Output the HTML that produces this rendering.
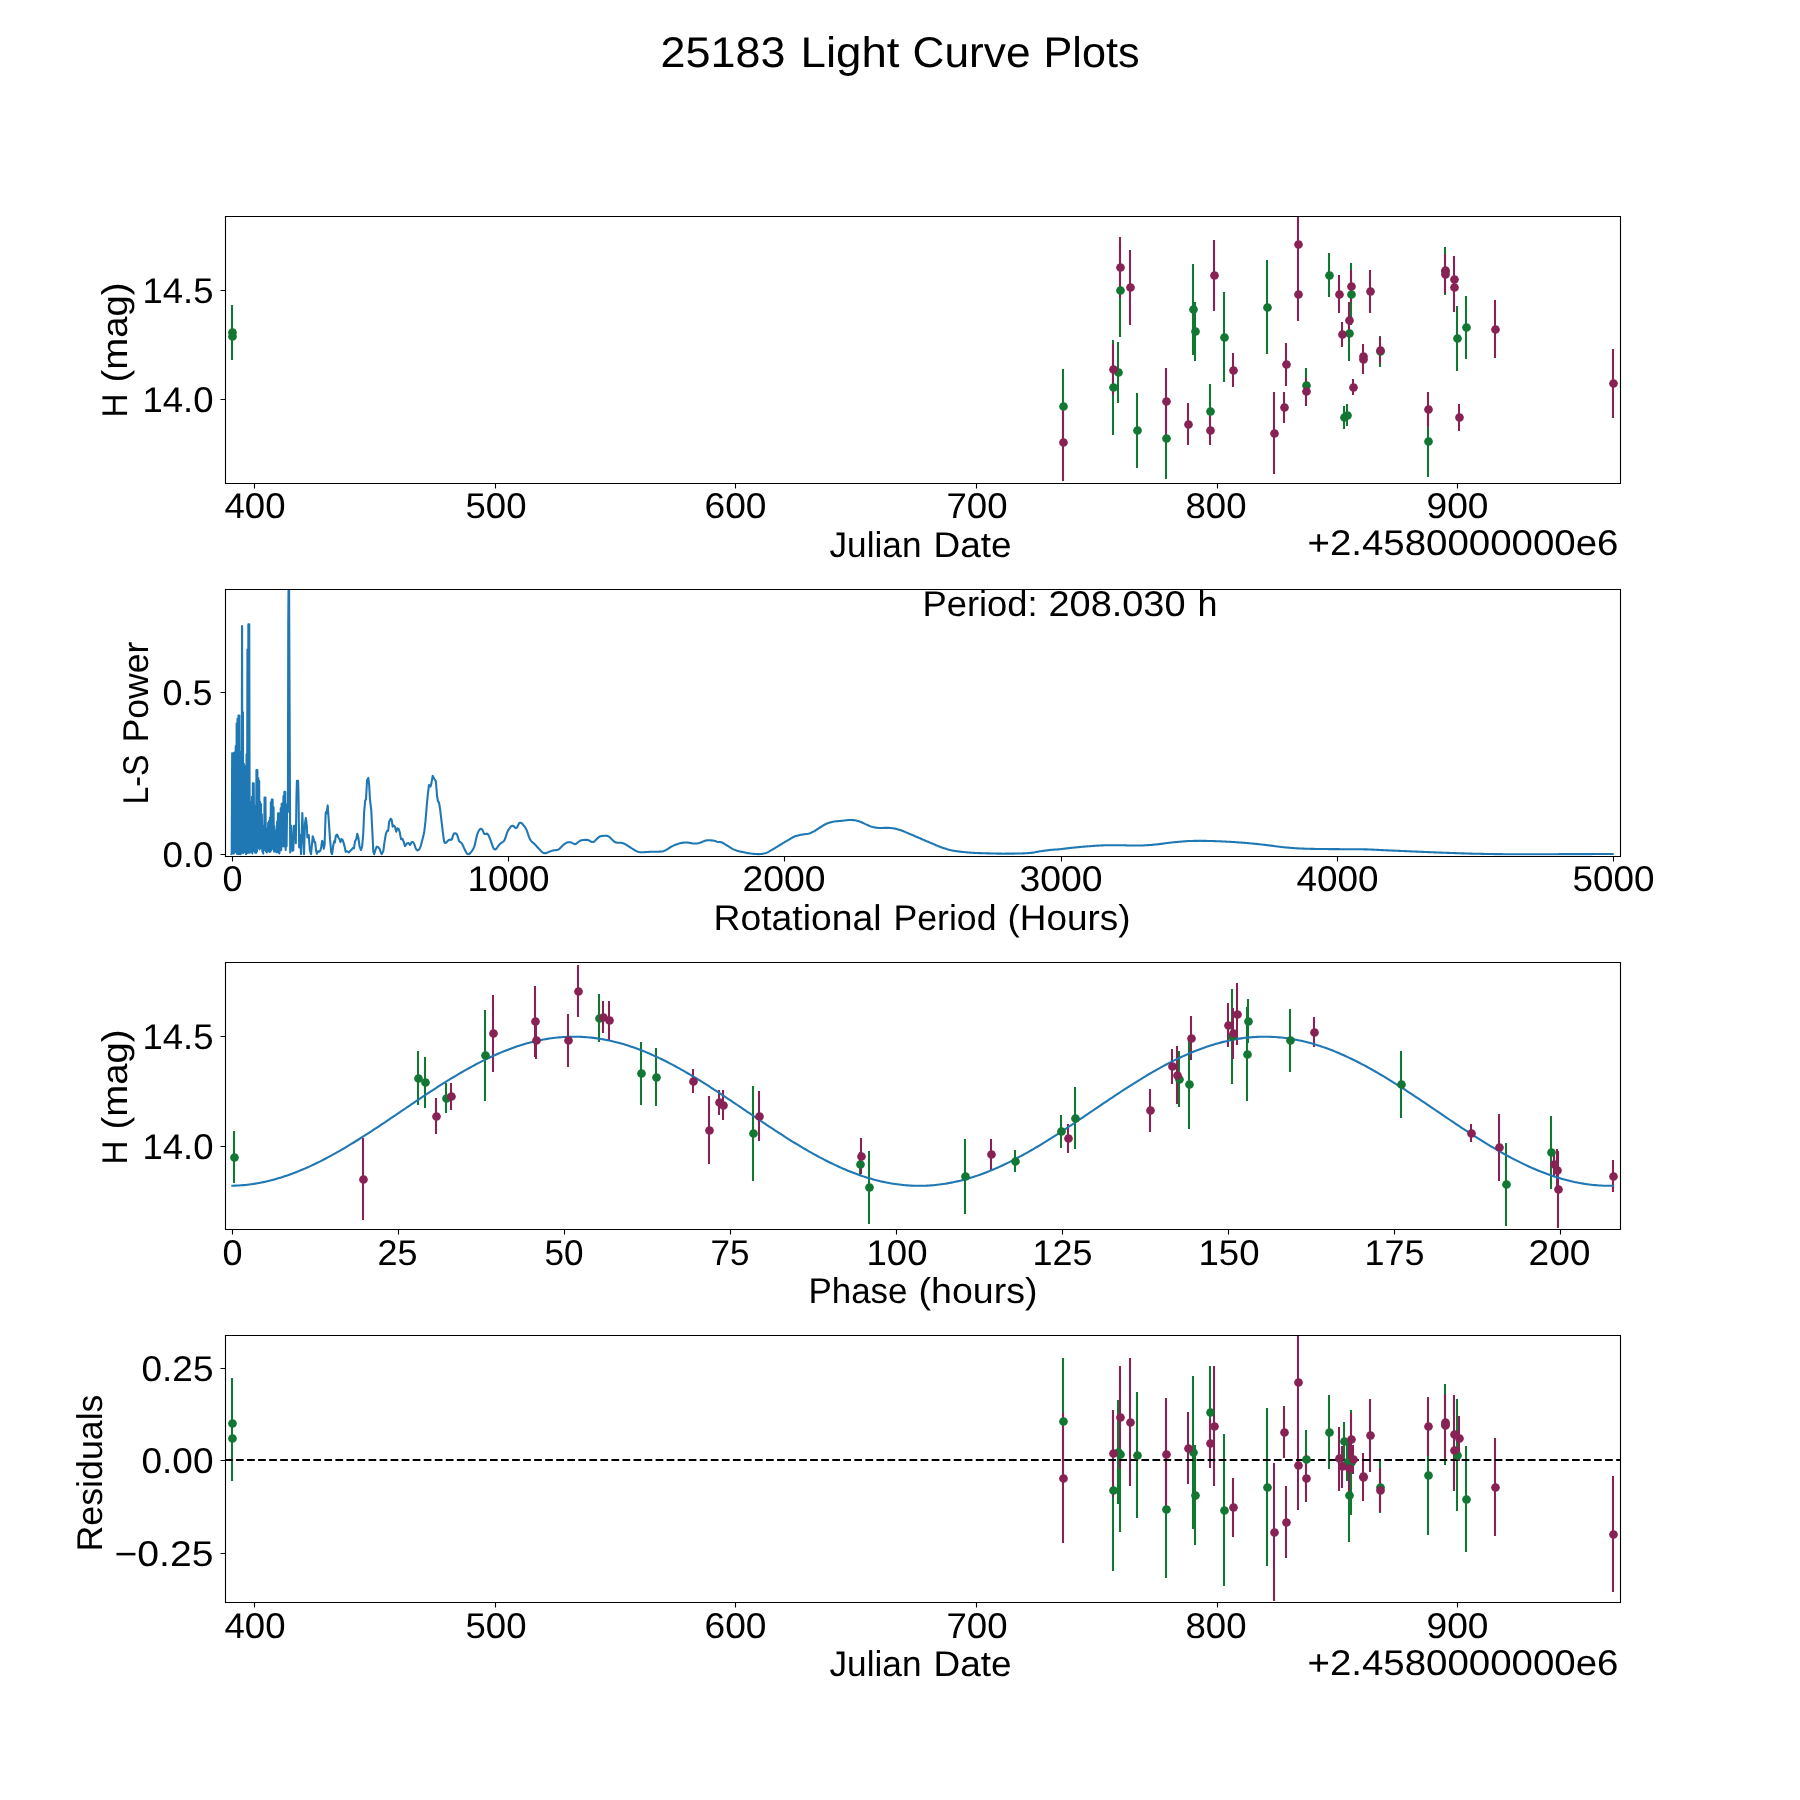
<!DOCTYPE html>
<html lang="en"><head><meta charset="utf-8"><title>25183 Light Curve Plots</title>
<style>html,body{margin:0;padding:0;background:#fff;}body{width:1800px;height:1800px;overflow:hidden;}svg{display:block;will-change:transform;}text{font-family:"Liberation Sans",sans-serif;fill:#000;filter:grayscale(1);text-rendering:geometricPrecision;}</style></head><body>
<svg width="1800" height="1800" viewBox="0 0 1800 1800">
<rect width="1800" height="1800" fill="#fff"/>
<defs>
<clipPath id="c0"><rect x="225.0" y="216" width="1395.0" height="266.54"/></clipPath>
<clipPath id="c1"><rect x="225.0" y="589.15" width="1395.0" height="266.54"/></clipPath>
<clipPath id="c2"><rect x="225.0" y="962.31" width="1395.0" height="266.54"/></clipPath>
<clipPath id="c3"><rect x="225.0" y="1335.46" width="1395.0" height="266.54"/></clipPath>
</defs>
<g clip-path="url(#c0)">
<path d="M232 305V360M232 312V360M1063 369V444M1113 340V435M1118 342V403M1120 245V337M1137 393V468M1166 398V479M1193 264V355M1195 302V361M1210 384V438M1224 292V382M1267 260V354M1306 368V402M1329 253V297M1351 263V325M1349 306V361M1380 336V367M1344 406V429M1347 404V426M1428 406V477M1445 247V295M1457 306V371M1466 296V359" stroke="#117733" stroke-width="2.083" fill="none"/>
<path d="M1063 404V481M1113 344V395M1120 237V298M1130 250V325M1166 368V435M1188 403V445M1210 416V445M1214 240V311M1233 353V387M1274 392V474M1284 392V423M1286 343V386M1298 217V272M1298 268V321M1306 378V406M1339 275V313M1351 270V302M1349 302V338M1342 322V347M1370 270V313M1363 344V368M1363 345V374M1380 337V363M1353 379V395M1428 392V427M1445 254V287M1445 256V293M1454 256V303M1454 263V312M1495 300V358M1459 404V431M1613 349V418" stroke="#882255" stroke-width="2.083" fill="none"/>
<g fill="#117733"><circle cx="232.5" cy="332.5" r="4.35"/><circle cx="232.5" cy="336.5" r="4.35"/><circle cx="1063.5" cy="406.5" r="4.35"/><circle cx="1113.5" cy="387.5" r="4.35"/><circle cx="1118.5" cy="372.5" r="4.35"/><circle cx="1120.5" cy="290.5" r="4.35"/><circle cx="1137.5" cy="430.5" r="4.35"/><circle cx="1166.5" cy="438.5" r="4.35"/><circle cx="1193.5" cy="309.5" r="4.35"/><circle cx="1195.5" cy="331.5" r="4.35"/><circle cx="1210.5" cy="411.5" r="4.35"/><circle cx="1224.5" cy="337.5" r="4.35"/><circle cx="1267.5" cy="307.5" r="4.35"/><circle cx="1306.5" cy="385.5" r="4.35"/><circle cx="1329.5" cy="275.5" r="4.35"/><circle cx="1351.5" cy="294.5" r="4.35"/><circle cx="1349.5" cy="333.5" r="4.35"/><circle cx="1380.5" cy="351.5" r="4.35"/><circle cx="1344.5" cy="417.5" r="4.35"/><circle cx="1347.5" cy="415.5" r="4.35"/><circle cx="1428.5" cy="441.5" r="4.35"/><circle cx="1445.5" cy="271.5" r="4.35"/><circle cx="1457.5" cy="338.5" r="4.35"/><circle cx="1466.5" cy="327.5" r="4.35"/></g>
<g fill="#882255"><circle cx="1063.5" cy="442.5" r="4.35"/><circle cx="1113.5" cy="369.5" r="4.35"/><circle cx="1120.5" cy="267.5" r="4.35"/><circle cx="1130.5" cy="287.5" r="4.35"/><circle cx="1166.5" cy="401.5" r="4.35"/><circle cx="1188.5" cy="424.5" r="4.35"/><circle cx="1210.5" cy="430.5" r="4.35"/><circle cx="1214.5" cy="275.5" r="4.35"/><circle cx="1233.5" cy="370.5" r="4.35"/><circle cx="1274.5" cy="433.5" r="4.35"/><circle cx="1284.5" cy="407.5" r="4.35"/><circle cx="1286.5" cy="364.5" r="4.35"/><circle cx="1298.5" cy="244.5" r="4.35"/><circle cx="1298.5" cy="294.5" r="4.35"/><circle cx="1306.5" cy="391.5" r="4.35"/><circle cx="1339.5" cy="294.5" r="4.35"/><circle cx="1351.5" cy="286.5" r="4.35"/><circle cx="1349.5" cy="320.5" r="4.35"/><circle cx="1342.5" cy="334.5" r="4.35"/><circle cx="1370.5" cy="291.5" r="4.35"/><circle cx="1363.5" cy="356.5" r="4.35"/><circle cx="1363.5" cy="359.5" r="4.35"/><circle cx="1380.5" cy="350.5" r="4.35"/><circle cx="1353.5" cy="387.5" r="4.35"/><circle cx="1428.5" cy="409.5" r="4.35"/><circle cx="1445.5" cy="270.5" r="4.35"/><circle cx="1445.5" cy="274.5" r="4.35"/><circle cx="1454.5" cy="279.5" r="4.35"/><circle cx="1454.5" cy="287.5" r="4.35"/><circle cx="1495.5" cy="329.5" r="4.35"/><circle cx="1459.5" cy="417.5" r="4.35"/><circle cx="1613.5" cy="383.5" r="4.35"/></g>
</g>
<g clip-path="url(#c1)">
<path d="M231.25 855 L231.7 853.15 L232.15 753.33 L232.6 852.71 L233.05 760.7 L233.5 853.6 L233.95 752.84 L234.4 852.99 L234.85 752.22 L235.3 851.87 L235.75 746.08 L236.2 851.71 L236.65 723.18 L237.1 853.92 L237.55 718.82 L238 853.64 L238.45 715.42 L238.9 854.13 L239.35 715.42 L239.8 852.74 L240.25 751.79 L240.7 854.19 L241.15 752.05 L241.6 852.54 L242.05 626 L242.5 851.7 L242.95 712.32 L243.4 853.14 L243.85 763.79 L244.3 851.37 L244.75 766.11 L245.2 851.64 L245.65 778.77 L246.1 854.19 L246.55 754.19 L247 851.61 L247.45 649.53 L247.9 853.01 L248.35 624.33 L248.8 852.17 L249.25 624.33 L249.7 852.8 L250.15 801.73 L250.6 850.52 L251.05 801.92 L251.5 851.82 L251.95 796.83 L252.4 853.39 L252.85 783.33 L253.3 851.06 L253.75 783.33 L254.2 849.54 L254.65 805.89 L255.1 852.38 L255.55 806.67 L256 852.87 L256.45 770 L256.9 851.74 L257.35 770 L257.8 847.98 L258.25 778.12 L258.7 847.56 L259.15 780.83 L259.6 849.55 L260.05 801.67 L260.5 847.77 L260.95 804 L261.4 848.05 L261.85 814.25 L262.3 851.45 L262.75 825.42 L263.2 853.59 L263.65 825.42 L264.1 849.15 L264.55 797.5 L265 849.82 L265.45 797.5 L265.9 851.34 L266.35 834.07 L266.8 852.42 L267.25 828.63 L267.7 850.84 L268.15 822.85 L268.6 850.23 L269.05 821.07 L269.5 851.92 L269.95 817.57 L270.4 851.67 L270.85 802.24 L271.3 850.11 L271.75 799.58 L272.2 846.28 L272.65 799.58 L273.1 848.74 L273.55 807.3 L274 851.57 L274.45 826.33 L274.9 851.57 L275.35 830.16 L275.8 849.77 L276.25 830.57 L276.7 852.22 L277.15 821.33 L277.6 852.23 L278.05 813.33 L278.5 848.93 L278.95 813.33 L279.4 853.37 L279.85 821.28 L280.3 849.09 L280.75 808.02 L281.2 850.34 L281.65 803.8 L282.1 846.45 L282.55 803.39 L283 845.9 L283.45 795.95 L283.9 846.41 L284.35 791.67 L284.8 846.32 L285.25 791.67 L285.7 849.91 L286.15 804.33 L286.6 846.35 L287.05 812.02 L287.9 812 L288.25 623.3 L288.9 540 L290.2 852.5 L291.25 825.83 L292.5 850.83 L293.33 850.42 L294 825.83 L295.42 825.83 L295.83 843.33 L296.5 795 L296.92 780.83 L298.08 780.83 L298.5 795 L299.17 847.5 L300.17 835 L301 854.17 L302.33 812.92 L303.17 835 L304 854.17 L305 823.33 L305.83 817.92 L306.83 825.83 L307.33 837.5 L308.75 835 L309.83 850 L311 854.17 L312.08 843.33 L312.75 836.25 L313.75 839.17 L314.58 842.5 L315.17 842.08 L316 850 L316.83 853.75 L317.92 851.25 L319.17 851.67 L320.42 850.42 L321.25 846.67 L322.08 840.83 L322.92 842.08 L323.75 848.75 L324.58 845 L325.67 813.33 L326.25 811.67 L326.67 813.33 L327.67 805.42 L328.5 816.67 L330 839.17 L331.25 852.5 L332.08 854.17 L333.33 845 L334.17 841.25 L334.83 842.5 L335.83 835.83 L337.08 834.58 L338.33 837.5 L339.58 839.17 L340.42 842.08 L341.67 839.17 L342.67 840 L343.75 843.33 L344.83 847.5 L345.67 851.67 L347.08 851.25 L348.75 852.5 L350.42 850.83 L351.67 849.58 L352.92 847.92 L354 848.33 L355 841.25 L356.25 839.17 L357.33 833.75 L358.33 837.5 L359.58 846.67 L361 850 L362.08 846.67 L363.17 835 L364.17 811.67 L365.17 800.83 L366 799.17 L367.08 780 L368.33 777.92 L369.17 785 L370 800 L371.25 810 L372.5 835 L373.33 851.67 L374.17 854.17 L375.42 850 L376.67 846.67 L377.92 847.08 L379.58 848.75 L380.83 852.5 L381.83 854.17 L383.33 850.83 L384.58 841.67 L385.83 834.17 L387.08 830.83 L388.17 830.83 L389.17 821.67 L390.67 818.75 L391.67 820 L392.67 826.67 L393.75 825.42 L395 826.67 L396.25 831.67 L397.5 828.33 L398.75 829.17 L399.83 832.5 L401 839.17 L402.5 838.75 L403.75 842.08 L405 846.25 L406.67 843.75 L408.33 842.92 L410 845 L411.67 842.08 L412.92 842.08 L414.17 843.75 L415.83 848.75 L417.5 850.42 L419.17 849.58 L420.83 845.83 L422.5 839.17 L424.17 832.5 L425.42 821.67 L426.67 806.67 L427.92 793.33 L429 785 L430.42 786.67 L431.25 784.17 L432.67 775.83 L434.17 778.75 L435.67 780.83 L436 783 L437 795.49 L438 801.54 L439 802.5 L440 808.33 L441 816.99 L442 825.17 L443 833.49 L444 841.21 L445 842.85 L446 842.68 L447 841.74 L448 840.66 L449 839.88 L450 839.58 L451 839.89 L452 839.03 L453 835.62 L454 833.56 L455 833.17 L456 833.45 L457 834.53 L458 837.33 L459 840.96 L460 841.82 L461 842.56 L462 843.64 L463 845.68 L464 848.03 L465 850.04 L466 852.02 L467 853.68 L468 854.28 L469 854.11 L470 853.33 L471 852.18 L472 850.8 L473 849.33 L474 847.39 L475 844.14 L476 839.28 L477 835.27 L478 832.39 L479 830.39 L480 829.17 L481 828.81 L482 829.14 L483 831 L484 833.6 L485 833.95 L486 833.93 L487 833.5 L488 834.46 L489 836.29 L490 838.75 L491 841.46 L492 844.3 L493 847.21 L494 849.09 L495 849.52 L496 849.06 L497 847.79 L498 846.45 L499 845.2 L500 844.01 L501 843.04 L502 842.4 L503 841.76 L504 841.01 L505 839.07 L506 835.98 L507 832.87 L508 830.68 L509 829.13 L510 827.74 L511 826.45 L512 825.79 L513 825.79 L514 826.48 L515 827.67 L516 828.14 L517 827.48 L518 825.51 L519 823.44 L520 822.67 L521 822.84 L522 823.49 L523 824.68 L524 825.89 L525 827.23 L526 828.71 L527 831.05 L528 833.98 L529 836.86 L530 839.22 L531 840.88 L532 841.89 L533 842.77 L534 843.6 L535 844.56 L536 845.59 L537 846.69 L538 847.8 L539 848.9 L540 849.99 L541 851 L542 852 L543 852.71 L544 853.14 L545 853.33 L546 853.11 L547 852.7 L548 852.31 L549 851.89 L550 851.5 L551 851.13 L552 850.77 L553 850.48 L554 850.31 L555 850.21 L556 850.1 L557 849.94 L558 849.7 L559 849.19 L560 848.33 L561 847.36 L562 846.32 L563 845.27 L564 844.38 L565 843.65 L566 843.09 L567 842.59 L568 842.28 L569 842.25 L570 842.25 L571 842.38 L572 842.91 L573 843.37 L574 843.77 L575 844.17 L576 843.77 L577 843.11 L578 842.26 L579 841.49 L580 840.8 L581 840.37 L582 840.17 L583 840.03 L584 839.94 L585 839.86 L586 839.83 L587 839.89 L588 840.01 L589 840.43 L590 841 L591 841.64 L592 842.08 L593 842 L594 841.73 L595 840.83 L596 839.85 L597 838.81 L598 837.88 L599 837.02 L600 836.48 L601 836.13 L602 835.96 L603 835.88 L604 835.83 L605 835.83 L606 835.83 L607 835.86 L608 836.16 L609 836.64 L610 837.5 L611 838.49 L612 839.52 L613 840.49 L614 841.42 L615 842.08 L616 842.41 L617 842.62 L618 842.69 L619 842.71 L620 842.73 L621 842.8 L622 842.96 L623 843.19 L624 843.57 L625 844.11 L626 844.68 L627 845.27 L628 845.91 L629 846.56 L630 847.2 L631 847.85 L632 848.5 L633 849.13 L634 849.75 L635 850.37 L636 850.94 L637 851.39 L638 851.78 L639 852.05 L640 852.21 L641 852.31 L642 852.33 L643 852.29 L644 852.22 L645 852.14 L646 852.07 L647 852.01 L648 851.95 L649 851.89 L650 851.83 L651 851.78 L652 851.73 L653 851.69 L654 851.67 L655 851.67 L656 851.67 L657 851.67 L658 851.67 L659 851.66 L660 851.62 L661 851.55 L662 851.46 L663 851.22 L664 850.89 L665 850.48 L666 849.96 L667 849.39 L668 848.77 L669 848.12 L670 847.5 L671 846.91 L672 846.35 L673 845.83 L674 845.37 L675 844.95 L676 844.57 L677 844.22 L678 843.89 L679 843.59 L680 843.33 L681 843.09 L682 842.86 L683 842.7 L684 842.62 L685 842.55 L686 842.51 L687 842.51 L688 842.6 L689 842.76 L690 842.92 L691 843.1 L692 843.32 L693 843.47 L694 843.53 L695 843.57 L696 843.58 L697 843.46 L698 843.24 L699 843 L700 842.68 L701 842.32 L702 841.96 L703 841.55 L704 841.15 L705 840.83 L706 840.59 L707 840.38 L708 840.26 L709 840.26 L710 840.3 L711 840.37 L712 840.45 L713 840.59 L714 840.78 L715 841 L716 841.35 L717 841.77 L718 842.06 L719 842.05 L720 842 L721 842.14 L722 842.5 L723 843.03 L724 843.65 L725 844.32 L726 844.96 L727 845.51 L728 846.09 L729 846.7 L730 847.32 L731 847.95 L732 848.55 L733 849.1 L734 849.6 L735 850 L736 850.34 L737 850.65 L738 850.93 L739 851.19 L740 851.43 L741 851.66 L742 851.88 L743 852.1 L744 852.31 L745 852.52 L746 852.73 L747 852.93 L748 853.12 L749 853.3 L750 853.46 L751 853.59 L752 853.7 L753 853.81 L754 853.91 L755 854 L756 854.08 L757 854.14 L758 854.16 L759 854.16 L760 854.1 L761 854 L762 853.87 L763 853.71 L764 853.53 L765 853.33 L766 853.06 L767 852.65 L768 852.14 L769 851.57 L770 850.97 L771 850.37 L772 849.82 L773 849.25 L774 848.67 L775 848.07 L776 847.46 L777 846.84 L778 846.22 L779 845.61 L780 845 L781 844.4 L782 843.79 L783 843.18 L784 842.57 L785 841.97 L786 841.37 L787 840.77 L788 840.19 L789 839.61 L790 839 L791 838.38 L792 837.78 L793 837.22 L794 836.73 L795 836.33 L796 836.01 L797 835.72 L798 835.45 L799 835.21 L800 835 L801 834.79 L802 834.61 L803 834.45 L804 834.32 L805 834.2 L806 834.07 L807 833.92 L808 833.74 L809 833.5 L810 833.16 L811 832.76 L812 832.31 L813 831.83 L814 831.33 L815 830.75 L816 830.12 L817 829.46 L818 828.78 L819 828.12 L820 827.5 L821 826.88 L822 826.25 L823 825.62 L824 825.01 L825 824.45 L826 823.95 L827 823.54 L828 823.15 L829 822.8 L830 822.47 L831 822.17 L832 821.92 L833 821.72 L834 821.57 L835 821.44 L836 821.33 L837 821.24 L838 821.15 L839 821.07 L840 820.99 L841 820.9 L842 820.8 L843 820.68 L844 820.55 L845 820.42 L846 820.29 L847 820.18 L848 820.08 L849 820.02 L850 820 L851 820.02 L852 820.07 L853 820.14 L854 820.23 L855 820.33 L856 820.49 L857 820.72 L858 821.01 L859 821.33 L860 821.67 L861 822.04 L862 822.47 L863 822.94 L864 823.43 L865 823.92 L866 824.38 L867 824.8 L868 825.24 L869 825.67 L870 826.1 L871 826.49 L872 826.83 L873 827.1 L874 827.29 L875 827.47 L876 827.64 L877 827.78 L878 827.9 L879 827.97 L880 828 L881 827.99 L882 827.96 L883 827.93 L884 827.89 L885 827.86 L886 827.84 L887 827.84 L888 827.86 L889 827.91 L890 827.99 L891 828.08 L892 828.18 L893 828.29 L894 828.42 L895 828.61 L896 828.84 L897 829.1 L898 829.39 L899 829.69 L900 830 L901 830.33 L902 830.69 L903 831.07 L904 831.48 L905 831.91 L906 832.34 L907 832.77 L908 833.19 L909 833.61 L910 834.03 L911 834.45 L912 834.88 L913 835.31 L914 835.74 L915 836.17 L916 836.61 L917 837.04 L918 837.47 L919 837.9 L920 838.33 L921 838.76 L922 839.19 L923 839.63 L924 840.06 L925 840.49 L926 840.93 L927 841.36 L928 841.79 L929 842.21 L930 842.64 L931 843.06 L932 843.47 L933 843.89 L934 844.32 L935 844.75 L936 845.17 L937 845.6 L938 846.01 L939 846.42 L940 846.81 L941 847.19 L942 847.55 L943 847.89 L944 848.21 L945 848.52 L946 848.83 L947 849.13 L948 849.42 L949 849.69 L950 849.95 L951 850.19 L952 850.41 L953 850.61 L954 850.78 L955 850.95 L956 851.1 L957 851.25 L958 851.38 L959 851.51 L960 851.63 L961 851.75 L962 851.86 L963 851.97 L964 852.07 L965 852.17 L966 852.27 L967 852.36 L968 852.45 L969 852.54 L970 852.62 L971 852.69 L972 852.76 L973 852.82 L974 852.87 L975 852.92 L976 852.96 L977 853.01 L978 853.05 L979 853.09 L980 853.13 L981 853.16 L982 853.2 L983 853.23 L984 853.26 L985 853.29 L986 853.32 L987 853.34 L988 853.37 L989 853.4 L990 853.42 L991 853.45 L992 853.48 L993 853.51 L994 853.53 L995 853.55 L996 853.58 L997 853.6 L998 853.62 L999 853.63 L1000 853.65 L1001 853.66 L1002 853.66 L1003 853.67 L1004 853.67 L1005 853.66 L1006 853.66 L1007 853.66 L1008 853.65 L1009 853.64 L1010 853.64 L1011 853.63 L1012 853.62 L1013 853.61 L1014 853.59 L1015 853.58 L1016 853.56 L1017 853.55 L1018 853.53 L1019 853.52 L1020 853.5 L1021 853.48 L1022 853.45 L1023 853.41 L1024 853.37 L1025 853.32 L1026 853.27 L1027 853.21 L1028 853.14 L1029 853.07 L1030 853 L1031 852.9 L1032 852.78 L1033 852.62 L1034 852.44 L1035 852.26 L1036 852.06 L1037 851.86 L1038 851.67 L1039 851.49 L1040 851.33 L1041 851.19 L1042 851.04 L1043 850.89 L1044 850.75 L1045 850.61 L1046 850.47 L1047 850.35 L1048 850.22 L1049 850.11 L1050 850 L1051 849.9 L1052 849.81 L1053 849.73 L1054 849.65 L1055 849.58 L1056 849.5 L1057 849.42 L1058 849.34 L1059 849.26 L1060 849.17 L1061 849.06 L1062 848.96 L1063 848.84 L1064 848.72 L1065 848.6 L1066 848.47 L1067 848.35 L1068 848.23 L1069 848.11 L1070 848 L1071 847.89 L1072 847.79 L1073 847.68 L1074 847.58 L1075 847.48 L1076 847.38 L1077 847.28 L1078 847.19 L1079 847.09 L1080 847 L1081 846.91 L1082 846.82 L1083 846.73 L1084 846.65 L1085 846.56 L1086 846.48 L1087 846.4 L1088 846.32 L1089 846.24 L1090 846.17 L1091 846.09 L1092 846.02 L1093 845.94 L1094 845.87 L1095 845.8 L1096 845.73 L1097 845.66 L1098 845.6 L1099 845.55 L1100 845.5 L1101 845.45 L1102 845.41 L1103 845.36 L1104 845.32 L1105 845.28 L1106 845.24 L1107 845.21 L1108 845.19 L1109 845.17 L1110 845.17 L1111 845.17 L1112 845.17 L1113 845.17 L1114 845.17 L1115 845.17 L1116 845.17 L1117 845.17 L1118 845.17 L1119 845.17 L1120 845.17 L1121 845.18 L1122 845.2 L1123 845.24 L1124 845.28 L1125 845.33 L1126 845.38 L1127 845.43 L1128 845.47 L1129 845.49 L1130 845.5 L1131 845.5 L1132 845.5 L1133 845.5 L1134 845.5 L1135 845.5 L1136 845.5 L1137 845.5 L1138 845.5 L1139 845.5 L1140 845.5 L1141 845.49 L1142 845.47 L1143 845.43 L1144 845.39 L1145 845.33 L1146 845.27 L1147 845.21 L1148 845.14 L1149 845.07 L1150 845 L1151 844.93 L1152 844.85 L1153 844.76 L1154 844.66 L1155 844.56 L1156 844.45 L1157 844.34 L1158 844.23 L1159 844.11 L1160 844 L1161 843.88 L1162 843.75 L1163 843.62 L1164 843.48 L1165 843.33 L1166 843.19 L1167 843.05 L1168 842.92 L1169 842.79 L1170 842.67 L1171 842.55 L1172 842.44 L1173 842.33 L1174 842.23 L1175 842.12 L1176 842.02 L1177 841.93 L1178 841.84 L1179 841.75 L1180 841.67 L1181 841.59 L1182 841.5 L1183 841.42 L1184 841.34 L1185 841.27 L1186 841.2 L1187 841.13 L1188 841.08 L1189 841.03 L1190 841 L1191 840.97 L1192 840.95 L1193 840.92 L1194 840.9 L1195 840.88 L1196 840.87 L1197 840.85 L1198 840.84 L1199 840.84 L1200 840.83 L1201 840.84 L1202 840.84 L1203 840.86 L1204 840.87 L1205 840.89 L1206 840.91 L1207 840.93 L1208 840.95 L1209 840.98 L1210 841 L1211 841.02 L1212 841.05 L1213 841.08 L1214 841.11 L1215 841.14 L1216 841.18 L1217 841.22 L1218 841.25 L1219 841.29 L1220 841.33 L1221 841.37 L1222 841.42 L1223 841.46 L1224 841.51 L1225 841.56 L1226 841.61 L1227 841.67 L1228 841.72 L1229 841.78 L1230 841.83 L1231 841.89 L1232 841.95 L1233 842.01 L1234 842.08 L1235 842.15 L1236 842.21 L1237 842.28 L1238 842.35 L1239 842.43 L1240 842.5 L1241 842.58 L1242 842.65 L1243 842.73 L1244 842.81 L1245 842.9 L1246 842.98 L1247 843.07 L1248 843.15 L1249 843.24 L1250 843.33 L1251 843.43 L1252 843.52 L1253 843.62 L1254 843.71 L1255 843.81 L1256 843.91 L1257 844.02 L1258 844.12 L1259 844.23 L1260 844.33 L1261 844.44 L1262 844.55 L1263 844.67 L1264 844.78 L1265 844.9 L1266 845.01 L1267 845.13 L1268 845.25 L1269 845.38 L1270 845.5 L1271 845.63 L1272 845.76 L1273 845.9 L1274 846.04 L1275 846.18 L1276 846.32 L1277 846.46 L1278 846.59 L1279 846.71 L1280 846.83 L1281 846.95 L1282 847.06 L1283 847.17 L1284 847.27 L1285 847.38 L1286 847.48 L1287 847.57 L1288 847.66 L1289 847.75 L1290 847.83 L1291 847.91 L1292 847.99 L1293 848.07 L1294 848.14 L1295 848.21 L1296 848.28 L1297 848.34 L1298 848.4 L1299 848.45 L1300 848.5 L1301 848.54 L1302 848.58 L1303 848.62 L1304 848.66 L1305 848.69 L1306 848.73 L1307 848.76 L1308 848.78 L1309 848.81 L1310 848.83 L1311 848.85 L1312 848.88 L1313 848.89 L1314 848.91 L1315 848.93 L1316 848.95 L1317 848.96 L1318 848.98 L1319 848.99 L1320 849 L1321 849.01 L1322 849.02 L1323 849.03 L1324 849.04 L1325 849.05 L1326 849.06 L1327 849.07 L1328 849.08 L1329 849.09 L1330 849.09 L1331 849.1 L1332 849.11 L1333 849.12 L1334 849.12 L1335 849.13 L1336 849.14 L1337 849.14 L1338 849.15 L1339 849.16 L1340 849.17 L1341 849.17 L1342 849.18 L1343 849.19 L1344 849.19 L1345 849.2 L1346 849.21 L1347 849.21 L1348 849.22 L1349 849.22 L1350 849.23 L1351 849.23 L1352 849.24 L1353 849.24 L1354 849.25 L1355 849.26 L1356 849.26 L1357 849.27 L1358 849.28 L1359 849.29 L1360 849.3 L1361 849.31 L1362 849.32 L1363 849.33 L1364 849.34 L1365 849.36 L1366 849.38 L1367 849.41 L1368 849.44 L1369 849.48 L1370 849.51 L1371 849.56 L1372 849.6 L1373 849.65 L1374 849.69 L1375 849.74 L1376 849.8 L1377 849.85 L1378 849.9 L1379 849.95 L1380 850.01 L1381 850.06 L1382 850.11 L1383 850.16 L1384 850.21 L1385 850.26 L1386 850.3 L1387 850.35 L1388 850.39 L1389 850.43 L1390 850.48 L1391 850.52 L1392 850.56 L1393 850.6 L1394 850.65 L1395 850.69 L1396 850.73 L1397 850.78 L1398 850.82 L1399 850.86 L1400 850.9 L1401 850.95 L1402 850.99 L1403 851.03 L1404 851.08 L1405 851.12 L1406 851.16 L1407 851.2 L1408 851.25 L1409 851.29 L1410 851.33 L1411 851.38 L1412 851.42 L1413 851.46 L1414 851.51 L1415 851.55 L1416 851.59 L1417 851.64 L1418 851.68 L1419 851.73 L1420 851.77 L1421 851.82 L1422 851.86 L1423 851.9 L1424 851.95 L1425 851.99 L1426 852.03 L1427 852.08 L1428 852.12 L1429 852.16 L1430 852.2 L1431 852.24 L1432 852.28 L1433 852.32 L1434 852.36 L1435 852.4 L1436 852.44 L1437 852.47 L1438 852.51 L1439 852.55 L1440 852.59 L1441 852.63 L1442 852.66 L1443 852.7 L1444 852.73 L1445 852.77 L1446 852.81 L1447 852.84 L1448 852.88 L1449 852.91 L1450 852.95 L1451 852.98 L1452 853.01 L1453 853.05 L1454 853.08 L1455 853.11 L1456 853.15 L1457 853.18 L1458 853.21 L1459 853.24 L1460 853.27 L1461 853.31 L1462 853.34 L1463 853.37 L1464 853.4 L1465 853.43 L1466 853.47 L1467 853.5 L1468 853.53 L1469 853.56 L1470 853.59 L1471 853.62 L1472 853.64 L1473 853.67 L1474 853.7 L1475 853.72 L1476 853.75 L1477 853.77 L1478 853.79 L1479 853.81 L1480 853.83 L1481 853.85 L1482 853.87 L1483 853.89 L1484 853.91 L1485 853.93 L1486 853.95 L1487 853.97 L1488 853.99 L1489 854.01 L1490 854.03 L1491 854.04 L1492 854.06 L1493 854.08 L1494 854.09 L1495 854.11 L1496 854.12 L1497 854.13 L1498 854.14 L1499 854.15 L1500 854.16 L1501 854.16 L1502 854.16 L1503 854.17 L1504 854.17 L1505 854.17 L1506 854.17 L1507 854.17 L1508 854.17 L1509 854.17 L1510 854.17 L1511 854.17 L1512 854.17 L1513 854.17 L1514 854.17 L1515 854.17 L1516 854.17 L1517 854.17 L1518 854.17 L1519 854.17 L1520 854.17 L1521 854.17 L1522 854.17 L1523 854.17 L1524 854.17 L1525 854.17 L1526 854.17 L1527 854.17 L1528 854.17 L1529 854.17 L1530 854.17 L1531 854.17 L1532 854.17 L1533 854.17 L1534 854.17 L1535 854.17 L1536 854.17 L1537 854.17 L1538 854.17 L1539 854.17 L1540 854.17 L1541 854.17 L1542 854.17 L1543 854.17 L1544 854.17 L1545 854.17 L1546 854.17 L1547 854.17 L1548 854.17 L1549 854.17 L1550 854.17 L1551 854.17 L1552 854.17 L1553 854.17 L1554 854.17 L1555 854.17 L1556 854.17 L1557 854.17 L1558 854.17 L1559 854.16 L1560 854.16 L1561 854.16 L1562 854.16 L1563 854.16 L1564 854.16 L1565 854.16 L1566 854.16 L1567 854.16 L1568 854.15 L1569 854.15 L1570 854.15 L1571 854.15 L1572 854.15 L1573 854.14 L1574 854.14 L1575 854.14 L1576 854.14 L1577 854.13 L1578 854.13 L1579 854.13 L1580 854.13 L1581 854.12 L1582 854.12 L1583 854.12 L1584 854.11 L1585 854.11 L1586 854.11 L1587 854.1 L1588 854.1 L1589 854.1 L1590 854.09 L1591 854.09 L1592 854.09 L1593 854.08 L1594 854.08 L1595 854.08 L1596 854.07 L1597 854.07 L1598 854.06 L1599 854.06 L1600 854.06 L1601 854.05 L1602 854.05 L1603 854.04 L1604 854.04 L1605 854.04 L1606 854.03 L1607 854.03 L1608 854.02 L1609 854.02 L1610 854.02 L1611 854.01 L1612 854.01 L1613 854 L1613.7 854" stroke="#1f77b4" stroke-width="2.083" fill="none" stroke-linejoin="round" stroke-linecap="butt"/>
</g>
<g clip-path="url(#c2)">
<path d="M234 1131V1183M418 1051V1105M425 1057V1108M446 1083V1113M485 1010V1101M599 994V1042M641 1042V1105M656 1048V1106M753 1086V1181M860 1152V1176M869 1151V1224M965 1139V1214M1015 1150V1172M1061 1115V1148M1075 1087V1149M1179 1051V1107M1189 1040V1129M1232 989V1084M1248 999V1043M1247 1007V1101M1290 1009V1072M1401 1051V1118M1506 1143V1226M1551 1116V1189" stroke="#117733" stroke-width="2.083" fill="none"/>
<path d="M363 1138V1220M436 1098V1134M451 1083V1110M493 995V1072M535 986V1057M536 1023V1059M568 1014V1067M578 965V1017M603 1001V1033M609 1001V1040M693 1069V1093M709 1096V1164M719 1090V1115M723 1090V1120M759 1091V1141M861 1138V1174M991 1139V1170M1068 1124V1153M1150 1089V1132M1172 1049V1084M1177 1046V1104M1191 1016V1060M1228 1003V1047M1233 1008V1059M1237 983V1045M1314 1017V1047M1471 1124V1142M1499 1114V1181M1554 1153V1176M1557 1149V1192M1558 1151V1228M1613 1160V1192" stroke="#882255" stroke-width="2.083" fill="none"/>
<path d="M231.3 1185.78 L233.3 1185.73 L235.3 1185.66 L237.3 1185.57 L239.3 1185.45 L241.3 1185.3 L243.3 1185.13 L245.3 1184.94 L247.3 1184.72 L249.3 1184.48 L251.3 1184.21 L253.3 1183.92 L255.3 1183.61 L257.3 1183.27 L259.3 1182.91 L261.3 1182.52 L263.3 1182.11 L265.3 1181.68 L267.3 1181.22 L269.3 1180.74 L271.3 1180.24 L273.3 1179.71 L275.3 1179.17 L277.3 1178.6 L279.3 1178 L281.3 1177.39 L283.3 1176.75 L285.3 1176.09 L287.3 1175.41 L289.3 1174.71 L291.3 1173.99 L293.3 1173.25 L295.3 1172.48 L297.3 1171.7 L299.3 1170.89 L301.3 1170.07 L303.3 1169.23 L305.3 1168.36 L307.3 1167.48 L309.3 1166.58 L311.3 1165.67 L313.3 1164.73 L315.3 1163.78 L317.3 1162.8 L319.3 1161.82 L321.3 1160.81 L323.3 1159.79 L325.3 1158.75 L327.3 1157.7 L329.3 1156.63 L331.3 1155.55 L333.3 1154.45 L335.3 1153.33 L337.3 1152.21 L339.3 1151.07 L341.3 1149.91 L343.3 1148.75 L345.3 1147.57 L347.3 1146.38 L349.3 1145.18 L351.3 1143.96 L353.3 1142.74 L355.3 1141.5 L357.3 1140.26 L359.3 1139 L361.3 1137.74 L363.3 1136.47 L365.3 1135.19 L367.3 1133.9 L369.3 1132.6 L371.3 1131.3 L373.3 1129.99 L375.3 1128.67 L377.3 1127.35 L379.3 1126.03 L381.3 1124.69 L383.3 1123.36 L385.3 1122.02 L387.3 1120.67 L389.3 1119.33 L391.3 1117.98 L393.3 1116.62 L395.3 1115.27 L397.3 1113.91 L399.3 1112.56 L401.3 1111.2 L403.3 1109.85 L405.3 1108.49 L407.3 1107.13 L409.3 1105.78 L411.3 1104.43 L413.3 1103.08 L415.3 1101.73 L417.3 1100.39 L419.3 1099.05 L421.3 1097.71 L423.3 1096.38 L425.3 1095.05 L427.3 1093.73 L429.3 1092.42 L431.3 1091.11 L433.3 1089.8 L435.3 1088.51 L437.3 1087.22 L439.3 1085.94 L441.3 1084.67 L443.3 1083.41 L445.3 1082.15 L447.3 1080.91 L449.3 1079.67 L451.3 1078.45 L453.3 1077.24 L455.3 1076.04 L457.3 1074.85 L459.3 1073.67 L461.3 1072.5 L463.3 1071.35 L465.3 1070.21 L467.3 1069.09 L469.3 1067.98 L471.3 1066.88 L473.3 1065.8 L475.3 1064.73 L477.3 1063.68 L479.3 1062.64 L481.3 1061.62 L483.3 1060.61 L485.3 1059.63 L487.3 1058.66 L489.3 1057.7 L491.3 1056.77 L493.3 1055.85 L495.3 1054.95 L497.3 1054.07 L499.3 1053.21 L501.3 1052.37 L503.3 1051.55 L505.3 1050.75 L507.3 1049.96 L509.3 1049.2 L511.3 1048.46 L513.3 1047.74 L515.3 1047.04 L517.3 1046.36 L519.3 1045.7 L521.3 1045.07 L523.3 1044.46 L525.3 1043.86 L527.3 1043.29 L529.3 1042.75 L531.3 1042.22 L533.3 1041.72 L535.3 1041.25 L537.3 1040.79 L539.3 1040.36 L541.3 1039.95 L543.3 1039.57 L545.3 1039.21 L547.3 1038.87 L549.3 1038.56 L551.3 1038.27 L553.3 1038 L555.3 1037.76 L557.3 1037.55 L559.3 1037.35 L561.3 1037.19 L563.3 1037.05 L565.3 1036.93 L567.3 1036.83 L569.3 1036.76 L571.3 1036.72 L573.3 1036.7 L575.3 1036.71 L577.3 1036.74 L579.3 1036.79 L581.3 1036.87 L583.3 1036.97 L585.3 1037.1 L587.3 1037.26 L589.3 1037.43 L591.3 1037.63 L593.3 1037.86 L595.3 1038.11 L597.3 1038.39 L599.3 1038.69 L601.3 1039.01 L603.3 1039.35 L605.3 1039.73 L607.3 1040.12 L609.3 1040.54 L611.3 1040.98 L613.3 1041.44 L615.3 1041.93 L617.3 1042.44 L619.3 1042.98 L621.3 1043.53 L623.3 1044.11 L625.3 1044.71 L627.3 1045.33 L629.3 1045.98 L631.3 1046.64 L633.3 1047.33 L635.3 1048.04 L637.3 1048.77 L639.3 1049.52 L641.3 1050.29 L643.3 1051.08 L645.3 1051.89 L647.3 1052.72 L649.3 1053.57 L651.3 1054.44 L653.3 1055.33 L655.3 1056.24 L657.3 1057.16 L659.3 1058.1 L661.3 1059.06 L663.3 1060.04 L665.3 1061.04 L667.3 1062.05 L669.3 1063.07 L671.3 1064.12 L673.3 1065.18 L675.3 1066.25 L677.3 1067.34 L679.3 1068.44 L681.3 1069.56 L683.3 1070.69 L685.3 1071.84 L687.3 1072.99 L689.3 1074.16 L691.3 1075.35 L693.3 1076.54 L695.3 1077.75 L697.3 1078.97 L699.3 1080.19 L701.3 1081.43 L703.3 1082.68 L705.3 1083.94 L707.3 1085.2 L709.3 1086.48 L711.3 1087.76 L713.3 1089.05 L715.3 1090.35 L717.3 1091.66 L719.3 1092.97 L721.3 1094.29 L723.3 1095.61 L725.3 1096.94 L727.3 1098.27 L729.3 1099.61 L731.3 1100.95 L733.3 1102.3 L735.3 1103.65 L737.3 1105 L739.3 1106.35 L741.3 1107.71 L743.3 1109.06 L745.3 1110.42 L747.3 1111.77 L749.3 1113.13 L751.3 1114.49 L753.3 1115.84 L755.3 1117.19 L757.3 1118.54 L759.3 1119.89 L761.3 1121.24 L763.3 1122.58 L765.3 1123.92 L767.3 1125.26 L769.3 1126.59 L771.3 1127.91 L773.3 1129.23 L775.3 1130.54 L777.3 1131.85 L779.3 1133.15 L781.3 1134.44 L783.3 1135.73 L785.3 1137.01 L787.3 1138.27 L789.3 1139.53 L791.3 1140.78 L793.3 1142.03 L795.3 1143.26 L797.3 1144.48 L799.3 1145.68 L801.3 1146.88 L803.3 1148.07 L805.3 1149.24 L807.3 1150.4 L809.3 1151.55 L811.3 1152.68 L813.3 1153.8 L815.3 1154.91 L817.3 1156 L819.3 1157.08 L821.3 1158.14 L823.3 1159.19 L825.3 1160.22 L827.3 1161.24 L829.3 1162.23 L831.3 1163.21 L833.3 1164.18 L835.3 1165.13 L837.3 1166.05 L839.3 1166.96 L841.3 1167.86 L843.3 1168.73 L845.3 1169.58 L847.3 1170.42 L849.3 1171.23 L851.3 1172.03 L853.3 1172.81 L855.3 1173.56 L857.3 1174.29 L859.3 1175.01 L861.3 1175.7 L863.3 1176.37 L865.3 1177.02 L867.3 1177.65 L869.3 1178.25 L871.3 1178.84 L873.3 1179.4 L875.3 1179.94 L877.3 1180.45 L879.3 1180.95 L881.3 1181.42 L883.3 1181.86 L885.3 1182.29 L887.3 1182.69 L889.3 1183.06 L891.3 1183.41 L893.3 1183.74 L895.3 1184.05 L897.3 1184.33 L899.3 1184.58 L901.3 1184.82 L903.3 1185.02 L905.3 1185.21 L907.3 1185.37 L909.3 1185.5 L911.3 1185.61 L913.3 1185.69 L915.3 1185.75 L917.3 1185.79 L919.3 1185.8 L921.3 1185.79 L923.3 1185.75 L925.3 1185.68 L927.3 1185.6 L929.3 1185.48 L931.3 1185.35 L933.3 1185.19 L935.3 1185 L937.3 1184.79 L939.3 1184.55 L941.3 1184.3 L943.3 1184.01 L945.3 1183.7 L947.3 1183.37 L949.3 1183.02 L951.3 1182.64 L953.3 1182.24 L955.3 1181.81 L957.3 1181.36 L959.3 1180.89 L961.3 1180.39 L963.3 1179.87 L965.3 1179.33 L967.3 1178.77 L969.3 1178.18 L971.3 1177.57 L973.3 1176.94 L975.3 1176.29 L977.3 1175.62 L979.3 1174.92 L981.3 1174.21 L983.3 1173.47 L985.3 1172.71 L987.3 1171.93 L989.3 1171.14 L991.3 1170.32 L993.3 1169.48 L995.3 1168.62 L997.3 1167.75 L999.3 1166.85 L1001.3 1165.94 L1003.3 1165.01 L1005.3 1164.06 L1007.3 1163.1 L1009.3 1162.11 L1011.3 1161.11 L1013.3 1160.1 L1015.3 1159.06 L1017.3 1158.01 L1019.3 1156.95 L1021.3 1155.87 L1023.3 1154.78 L1025.3 1153.67 L1027.3 1152.55 L1029.3 1151.41 L1031.3 1150.26 L1033.3 1149.1 L1035.3 1147.92 L1037.3 1146.74 L1039.3 1145.54 L1041.3 1144.33 L1043.3 1143.11 L1045.3 1141.87 L1047.3 1140.63 L1049.3 1139.38 L1051.3 1138.12 L1053.3 1136.85 L1055.3 1135.57 L1057.3 1134.29 L1059.3 1132.99 L1061.3 1131.69 L1063.3 1130.38 L1065.3 1129.07 L1067.3 1127.75 L1069.3 1126.42 L1071.3 1125.09 L1073.3 1123.76 L1075.3 1122.42 L1077.3 1121.07 L1079.3 1119.73 L1081.3 1118.38 L1083.3 1117.03 L1085.3 1115.67 L1087.3 1114.32 L1089.3 1112.96 L1091.3 1111.61 L1093.3 1110.25 L1095.3 1108.89 L1097.3 1107.54 L1099.3 1106.19 L1101.3 1104.83 L1103.3 1103.48 L1105.3 1102.13 L1107.3 1100.79 L1109.3 1099.45 L1111.3 1098.11 L1113.3 1096.78 L1115.3 1095.45 L1117.3 1094.13 L1119.3 1092.81 L1121.3 1091.5 L1123.3 1090.19 L1125.3 1088.9 L1127.3 1087.61 L1129.3 1086.32 L1131.3 1085.05 L1133.3 1083.78 L1135.3 1082.53 L1137.3 1081.28 L1139.3 1080.04 L1141.3 1078.82 L1143.3 1077.6 L1145.3 1076.39 L1147.3 1075.2 L1149.3 1074.02 L1151.3 1072.85 L1153.3 1071.69 L1155.3 1070.55 L1157.3 1069.42 L1159.3 1068.31 L1161.3 1067.2 L1163.3 1066.12 L1165.3 1065.04 L1167.3 1063.99 L1169.3 1062.95 L1171.3 1061.92 L1173.3 1060.91 L1175.3 1059.92 L1177.3 1058.95 L1179.3 1057.99 L1181.3 1057.05 L1183.3 1056.12 L1185.3 1055.22 L1187.3 1054.34 L1189.3 1053.47 L1191.3 1052.62 L1193.3 1051.79 L1195.3 1050.98 L1197.3 1050.2 L1199.3 1049.43 L1201.3 1048.68 L1203.3 1047.95 L1205.3 1047.25 L1207.3 1046.56 L1209.3 1045.9 L1211.3 1045.26 L1213.3 1044.64 L1215.3 1044.04 L1217.3 1043.46 L1219.3 1042.91 L1221.3 1042.38 L1223.3 1041.87 L1225.3 1041.39 L1227.3 1040.92 L1229.3 1040.49 L1231.3 1040.07 L1233.3 1039.68 L1235.3 1039.31 L1237.3 1038.97 L1239.3 1038.65 L1241.3 1038.35 L1243.3 1038.08 L1245.3 1037.83 L1247.3 1037.61 L1249.3 1037.41 L1251.3 1037.24 L1253.3 1037.09 L1255.3 1036.96 L1257.3 1036.86 L1259.3 1036.78 L1261.3 1036.73 L1263.3 1036.7 L1265.3 1036.7 L1267.3 1036.72 L1269.3 1036.77 L1271.3 1036.84 L1273.3 1036.94 L1275.3 1037.06 L1277.3 1037.21 L1279.3 1037.38 L1281.3 1037.57 L1283.3 1037.79 L1285.3 1038.03 L1287.3 1038.3 L1289.3 1038.59 L1291.3 1038.91 L1293.3 1039.25 L1295.3 1039.61 L1297.3 1040 L1299.3 1040.41 L1301.3 1040.84 L1303.3 1041.3 L1305.3 1041.78 L1307.3 1042.29 L1309.3 1042.81 L1311.3 1043.36 L1313.3 1043.94 L1315.3 1044.53 L1317.3 1045.15 L1319.3 1045.78 L1321.3 1046.44 L1323.3 1047.12 L1325.3 1047.83 L1327.3 1048.55 L1329.3 1049.29 L1331.3 1050.06 L1333.3 1050.84 L1335.3 1051.65 L1337.3 1052.47 L1339.3 1053.32 L1341.3 1054.18 L1343.3 1055.06 L1345.3 1055.96 L1347.3 1056.88 L1349.3 1057.82 L1351.3 1058.78 L1353.3 1059.75 L1355.3 1060.74 L1357.3 1061.74 L1359.3 1062.76 L1361.3 1063.8 L1363.3 1064.86 L1365.3 1065.93 L1367.3 1067.01 L1369.3 1068.11 L1371.3 1069.22 L1373.3 1070.35 L1375.3 1071.49 L1377.3 1072.65 L1379.3 1073.81 L1381.3 1074.99 L1383.3 1076.18 L1385.3 1077.39 L1387.3 1078.6 L1389.3 1079.83 L1391.3 1081.06 L1393.3 1082.31 L1395.3 1083.56 L1397.3 1084.82 L1399.3 1086.1 L1401.3 1087.38 L1403.3 1088.67 L1405.3 1089.96 L1407.3 1091.27 L1409.3 1092.58 L1411.3 1093.89 L1413.3 1095.22 L1415.3 1096.54 L1417.3 1097.88 L1419.3 1099.21 L1421.3 1100.55 L1423.3 1101.9 L1425.3 1103.24 L1427.3 1104.59 L1429.3 1105.95 L1431.3 1107.3 L1433.3 1108.66 L1435.3 1110.01 L1437.3 1111.37 L1439.3 1112.72 L1441.3 1114.08 L1443.3 1115.44 L1445.3 1116.79 L1447.3 1118.14 L1449.3 1119.49 L1451.3 1120.84 L1453.3 1122.18 L1455.3 1123.52 L1457.3 1124.86 L1459.3 1126.19 L1461.3 1127.52 L1463.3 1128.84 L1465.3 1130.15 L1467.3 1131.46 L1469.3 1132.76 L1471.3 1134.06 L1473.3 1135.35 L1475.3 1136.63 L1477.3 1137.9 L1479.3 1139.16 L1481.3 1140.41 L1483.3 1141.66 L1485.3 1142.89 L1487.3 1144.11 L1489.3 1145.32 L1491.3 1146.53 L1493.3 1147.71 L1495.3 1148.89 L1497.3 1150.06 L1499.3 1151.21 L1501.3 1152.35 L1503.3 1153.47 L1505.3 1154.58 L1507.3 1155.68 L1509.3 1156.76 L1511.3 1157.83 L1513.3 1158.88 L1515.3 1159.91 L1517.3 1160.93 L1519.3 1161.94 L1521.3 1162.92 L1523.3 1163.89 L1525.3 1164.84 L1527.3 1165.78 L1529.3 1166.69 L1531.3 1167.59 L1533.3 1168.47 L1535.3 1169.33 L1537.3 1170.17 L1539.3 1170.99 L1541.3 1171.79 L1543.3 1172.58 L1545.3 1173.34 L1547.3 1174.08 L1549.3 1174.8 L1551.3 1175.5 L1553.3 1176.17 L1555.3 1176.83 L1557.3 1177.46 L1559.3 1178.08 L1561.3 1178.67 L1563.3 1179.23 L1565.3 1179.78 L1567.3 1180.3 L1569.3 1180.8 L1571.3 1181.28 L1573.3 1181.73 L1575.3 1182.16 L1577.3 1182.57 L1579.3 1182.95 L1581.3 1183.31 L1583.3 1183.65 L1585.3 1183.96 L1587.3 1184.25 L1589.3 1184.51 L1591.3 1184.75 L1593.3 1184.96 L1595.3 1185.15 L1597.3 1185.32 L1599.3 1185.46 L1601.3 1185.58 L1603.3 1185.67 L1605.3 1185.74 L1607.3 1185.78 L1609.3 1185.8 L1611.3 1185.79 L1613.3 1185.76 L1614.1 1185.74" stroke="#1f77b4" stroke-width="2.083" fill="none" stroke-linejoin="round"/>
<g fill="#117733"><circle cx="234.5" cy="1157.5" r="4.35"/><circle cx="418.5" cy="1078.5" r="4.35"/><circle cx="425.5" cy="1082.5" r="4.35"/><circle cx="446.5" cy="1098.5" r="4.35"/><circle cx="485.5" cy="1055.5" r="4.35"/><circle cx="599.5" cy="1018.5" r="4.35"/><circle cx="641.5" cy="1073.5" r="4.35"/><circle cx="656.5" cy="1077.5" r="4.35"/><circle cx="753.5" cy="1133.5" r="4.35"/><circle cx="860.5" cy="1164.5" r="4.35"/><circle cx="869.5" cy="1187.5" r="4.35"/><circle cx="965.5" cy="1176.5" r="4.35"/><circle cx="1015.5" cy="1161.5" r="4.35"/><circle cx="1061.5" cy="1131.5" r="4.35"/><circle cx="1075.5" cy="1118.5" r="4.35"/><circle cx="1179.5" cy="1079.5" r="4.35"/><circle cx="1189.5" cy="1084.5" r="4.35"/><circle cx="1232.5" cy="1036.5" r="4.35"/><circle cx="1248.5" cy="1021.5" r="4.35"/><circle cx="1247.5" cy="1054.5" r="4.35"/><circle cx="1290.5" cy="1040.5" r="4.35"/><circle cx="1401.5" cy="1084.5" r="4.35"/><circle cx="1506.5" cy="1184.5" r="4.35"/><circle cx="1551.5" cy="1152.5" r="4.35"/></g>
<g fill="#882255"><circle cx="363.5" cy="1179.5" r="4.35"/><circle cx="436.5" cy="1116.5" r="4.35"/><circle cx="451.5" cy="1096.5" r="4.35"/><circle cx="493.5" cy="1033.5" r="4.35"/><circle cx="535.5" cy="1021.5" r="4.35"/><circle cx="536.5" cy="1040.5" r="4.35"/><circle cx="568.5" cy="1040.5" r="4.35"/><circle cx="578.5" cy="991.5" r="4.35"/><circle cx="603.5" cy="1017.5" r="4.35"/><circle cx="609.5" cy="1020.5" r="4.35"/><circle cx="693.5" cy="1081.5" r="4.35"/><circle cx="709.5" cy="1130.5" r="4.35"/><circle cx="719.5" cy="1102.5" r="4.35"/><circle cx="723.5" cy="1105.5" r="4.35"/><circle cx="759.5" cy="1116.5" r="4.35"/><circle cx="861.5" cy="1156.5" r="4.35"/><circle cx="991.5" cy="1154.5" r="4.35"/><circle cx="1068.5" cy="1138.5" r="4.35"/><circle cx="1150.5" cy="1110.5" r="4.35"/><circle cx="1172.5" cy="1066.5" r="4.35"/><circle cx="1177.5" cy="1075.5" r="4.35"/><circle cx="1191.5" cy="1038.5" r="4.35"/><circle cx="1228.5" cy="1025.5" r="4.35"/><circle cx="1233.5" cy="1033.5" r="4.35"/><circle cx="1237.5" cy="1014.5" r="4.35"/><circle cx="1314.5" cy="1032.5" r="4.35"/><circle cx="1471.5" cy="1133.5" r="4.35"/><circle cx="1499.5" cy="1147.5" r="4.35"/><circle cx="1554.5" cy="1164.5" r="4.35"/><circle cx="1557.5" cy="1170.5" r="4.35"/><circle cx="1558.5" cy="1189.5" r="4.35"/><circle cx="1613.5" cy="1176.5" r="4.35"/></g>
</g>
<g clip-path="url(#c3)">
<path d="M232 1378V1469M232 1396V1481M1063 1358V1485M1113 1410V1571M1118 1400V1504M1120 1377V1532M1137 1392V1518M1166 1441V1578M1193 1376V1529M1195 1445V1545M1210 1366V1458M1224 1434V1586M1267 1408V1566M1306 1430V1488M1329 1395V1469M1351 1410V1515M1349 1449V1542M1380 1461V1513M1344 1422V1461M1347 1444V1481M1428 1415V1535M1445 1384V1465M1457 1399V1511M1466 1446V1552" stroke="#117733" stroke-width="2.083" fill="none"/>
<path d="M1063 1413V1543M1113 1410V1497M1120 1366V1469M1130 1358V1486M1166 1398V1511M1188 1412V1484M1210 1419V1468M1214 1366V1486M1233 1478V1537M1274 1463V1601M1284 1406V1458M1286 1486V1558M1298 1336V1429M1298 1421V1510M1306 1454V1502M1339 1427V1491M1351 1413V1466M1349 1438V1499M1342 1446V1488M1370 1399V1472M1363 1456V1497M1363 1453V1501M1380 1468V1512M1353 1445V1474M1428 1397V1456M1445 1394V1451M1445 1394V1458M1454 1395V1474M1454 1409V1491M1495 1438V1536M1459 1416V1461M1613 1476V1592" stroke="#882255" stroke-width="2.083" fill="none"/>
<path d="M225 1460H1620" stroke="#000" stroke-width="2.083" stroke-dasharray="7.708 3.333" fill="none"/>
<g fill="#117733"><circle cx="232.5" cy="1423.5" r="4.35"/><circle cx="232.5" cy="1438.5" r="4.35"/><circle cx="1063.5" cy="1421.5" r="4.35"/><circle cx="1113.5" cy="1490.5" r="4.35"/><circle cx="1118.5" cy="1452.5" r="4.35"/><circle cx="1120.5" cy="1454.5" r="4.35"/><circle cx="1137.5" cy="1455.5" r="4.35"/><circle cx="1166.5" cy="1509.5" r="4.35"/><circle cx="1193.5" cy="1452.5" r="4.35"/><circle cx="1195.5" cy="1495.5" r="4.35"/><circle cx="1210.5" cy="1412.5" r="4.35"/><circle cx="1224.5" cy="1510.5" r="4.35"/><circle cx="1267.5" cy="1487.5" r="4.35"/><circle cx="1306.5" cy="1459.5" r="4.35"/><circle cx="1329.5" cy="1432.5" r="4.35"/><circle cx="1351.5" cy="1462.5" r="4.35"/><circle cx="1349.5" cy="1495.5" r="4.35"/><circle cx="1380.5" cy="1487.5" r="4.35"/><circle cx="1344.5" cy="1441.5" r="4.35"/><circle cx="1347.5" cy="1462.5" r="4.35"/><circle cx="1428.5" cy="1475.5" r="4.35"/><circle cx="1445.5" cy="1424.5" r="4.35"/><circle cx="1457.5" cy="1455.5" r="4.35"/><circle cx="1466.5" cy="1499.5" r="4.35"/></g>
<g fill="#882255"><circle cx="1063.5" cy="1478.5" r="4.35"/><circle cx="1113.5" cy="1453.5" r="4.35"/><circle cx="1120.5" cy="1417.5" r="4.35"/><circle cx="1130.5" cy="1422.5" r="4.35"/><circle cx="1166.5" cy="1454.5" r="4.35"/><circle cx="1188.5" cy="1448.5" r="4.35"/><circle cx="1210.5" cy="1443.5" r="4.35"/><circle cx="1214.5" cy="1426.5" r="4.35"/><circle cx="1233.5" cy="1507.5" r="4.35"/><circle cx="1274.5" cy="1532.5" r="4.35"/><circle cx="1284.5" cy="1432.5" r="4.35"/><circle cx="1286.5" cy="1522.5" r="4.35"/><circle cx="1298.5" cy="1382.5" r="4.35"/><circle cx="1298.5" cy="1465.5" r="4.35"/><circle cx="1306.5" cy="1478.5" r="4.35"/><circle cx="1339.5" cy="1458.5" r="4.35"/><circle cx="1351.5" cy="1439.5" r="4.35"/><circle cx="1349.5" cy="1468.5" r="4.35"/><circle cx="1342.5" cy="1466.5" r="4.35"/><circle cx="1370.5" cy="1435.5" r="4.35"/><circle cx="1363.5" cy="1476.5" r="4.35"/><circle cx="1363.5" cy="1477.5" r="4.35"/><circle cx="1380.5" cy="1490.5" r="4.35"/><circle cx="1353.5" cy="1459.5" r="4.35"/><circle cx="1428.5" cy="1426.5" r="4.35"/><circle cx="1445.5" cy="1422.5" r="4.35"/><circle cx="1445.5" cy="1425.5" r="4.35"/><circle cx="1454.5" cy="1434.5" r="4.35"/><circle cx="1454.5" cy="1450.5" r="4.35"/><circle cx="1495.5" cy="1487.5" r="4.35"/><circle cx="1459.5" cy="1438.5" r="4.35"/><circle cx="1613.5" cy="1534.5" r="4.35"/></g>
</g>
<path d="M225.5 216.5H1620.5V483.5H225.5ZM254.5 483.5V488.5M495.5 483.5V488.5M735.5 483.5V488.5M976.5 483.5V488.5M1217.5 483.5V488.5M1457.5 483.5V488.5M225.5 290.5H220.5M225.5 399.5H220.5M225.5 589.5H1620.5V856.5H225.5ZM232.5 856.5V861.5M508.5 856.5V861.5M784.5 856.5V861.5M1061.5 856.5V861.5M1337.5 856.5V861.5M1613.5 856.5V861.5M225.5 692.5H220.5M225.5 854.5H220.5M225.5 962.5H1620.5V1229.5H225.5ZM232.5 1229.5V1234.5M398.5 1229.5V1234.5M564.5 1229.5V1234.5M730.5 1229.5V1234.5M896.5 1229.5V1234.5M1062.5 1229.5V1234.5M1228.5 1229.5V1234.5M1394.5 1229.5V1234.5M1560.5 1229.5V1234.5M225.5 1036.5H220.5M225.5 1146.5H220.5M225.5 1335.5H1620.5V1602.5H225.5ZM254.5 1602.5V1607.5M495.5 1602.5V1607.5M735.5 1602.5V1607.5M976.5 1602.5V1607.5M1217.5 1602.5V1607.5M1457.5 1602.5V1607.5M225.5 1368.5H220.5M225.5 1460.5H220.5M225.5 1553.5H220.5" stroke="#000" stroke-width="1.111" fill="none" stroke-linejoin="miter"/>
<text y="67" font-size="42.9"><tspan x="660.5" textLength="125" lengthAdjust="spacingAndGlyphs">25183</tspan> <tspan x="800.5" textLength="99" lengthAdjust="spacingAndGlyphs">Light</tspan> <tspan x="912.5" textLength="118" lengthAdjust="spacingAndGlyphs">Curve</tspan> <tspan x="1043.5" textLength="96" lengthAdjust="spacingAndGlyphs">Plots</tspan></text>
<text y="615.8" font-size="35.75"><tspan x="922.5" textLength="115" lengthAdjust="spacingAndGlyphs">Period:</tspan> <tspan x="1048.5" textLength="137" lengthAdjust="spacingAndGlyphs">208.030</tspan> <tspan x="1197.5" textLength="20" lengthAdjust="spacingAndGlyphs">h</tspan></text>
<text y="556.8" font-size="35.75"><tspan x="829.5" textLength="92" lengthAdjust="spacingAndGlyphs">Julian</tspan> <tspan x="933.5" textLength="78" lengthAdjust="spacingAndGlyphs">Date</tspan></text>
<text transform="translate(127.2 0) rotate(-90)" font-size="35.75"><tspan x="-417.5" textLength="24" lengthAdjust="spacingAndGlyphs">H</tspan> <tspan x="-382.5" textLength="100" lengthAdjust="spacingAndGlyphs">(mag)</tspan></text>
<text y="518.3" font-size="35.75"><tspan x="224.5" textLength="61" lengthAdjust="spacingAndGlyphs">400</tspan></text>
<text y="518.3" font-size="35.75"><tspan x="465.5" textLength="61" lengthAdjust="spacingAndGlyphs">500</tspan></text>
<text y="518.3" font-size="35.75"><tspan x="704.5" textLength="62" lengthAdjust="spacingAndGlyphs">600</tspan></text>
<text y="518.3" font-size="35.75"><tspan x="946.5" textLength="61" lengthAdjust="spacingAndGlyphs">700</tspan></text>
<text y="518.3" font-size="35.75"><tspan x="1185.5" textLength="61" lengthAdjust="spacingAndGlyphs">800</tspan></text>
<text y="518.3" font-size="35.75"><tspan x="1426.5" textLength="62" lengthAdjust="spacingAndGlyphs">900</tspan></text>
<text y="412.2" font-size="35.75"><tspan x="142.5" textLength="71" lengthAdjust="spacingAndGlyphs">14.0</tspan></text>
<text y="302.5" font-size="35.75"><tspan x="142.5" textLength="71" lengthAdjust="spacingAndGlyphs">14.5</tspan></text>
<text y="555.4" font-size="35.75"><tspan x="1307.5" textLength="311" lengthAdjust="spacingAndGlyphs">+2.4580000000e6</tspan></text>
<text y="930" font-size="35.75"><tspan x="713.5" textLength="168" lengthAdjust="spacingAndGlyphs">Rotational</tspan> <tspan x="893.5" textLength="103" lengthAdjust="spacingAndGlyphs">Period</tspan> <tspan x="1007.5" textLength="123" lengthAdjust="spacingAndGlyphs">(Hours)</tspan></text>
<text transform="translate(147.5 0) rotate(-90)" font-size="35.75"><tspan x="-804.5" textLength="50" lengthAdjust="spacingAndGlyphs">L-S</tspan> <tspan x="-742.5" textLength="101" lengthAdjust="spacingAndGlyphs">Power</tspan></text>
<text y="891.4" font-size="35.75"><tspan x="222.5" textLength="20" lengthAdjust="spacingAndGlyphs">0</tspan></text>
<text y="891.4" font-size="35.75"><tspan x="467.5" textLength="82" lengthAdjust="spacingAndGlyphs">1000</tspan></text>
<text y="891.4" font-size="35.75"><tspan x="742.5" textLength="83" lengthAdjust="spacingAndGlyphs">2000</tspan></text>
<text y="891.4" font-size="35.75"><tspan x="1019.5" textLength="83" lengthAdjust="spacingAndGlyphs">3000</tspan></text>
<text y="891.4" font-size="35.75"><tspan x="1296.5" textLength="82" lengthAdjust="spacingAndGlyphs">4000</tspan></text>
<text y="891.4" font-size="35.75"><tspan x="1572.5" textLength="82" lengthAdjust="spacingAndGlyphs">5000</tspan></text>
<text y="705" font-size="35.75"><tspan x="162.5" textLength="50" lengthAdjust="spacingAndGlyphs">0.5</tspan></text>
<text y="1303.1" font-size="35.75"><tspan x="808.5" textLength="99" lengthAdjust="spacingAndGlyphs">Phase</tspan> <tspan x="918.5" textLength="119" lengthAdjust="spacingAndGlyphs">(hours)</tspan></text>
<text transform="translate(127.2 0) rotate(-90)" font-size="35.75"><tspan x="-1164.5" textLength="24" lengthAdjust="spacingAndGlyphs">H</tspan> <tspan x="-1129.5" textLength="100" lengthAdjust="spacingAndGlyphs">(mag)</tspan></text>
<text y="1264.6" font-size="35.75"><tspan x="222.5" textLength="20" lengthAdjust="spacingAndGlyphs">0</tspan></text>
<text y="1264.6" font-size="35.75"><tspan x="377.5" textLength="40" lengthAdjust="spacingAndGlyphs">25</tspan></text>
<text y="1264.6" font-size="35.75"><tspan x="544.5" textLength="39" lengthAdjust="spacingAndGlyphs">50</tspan></text>
<text y="1264.6" font-size="35.75"><tspan x="710.5" textLength="39" lengthAdjust="spacingAndGlyphs">75</tspan></text>
<text y="1264.6" font-size="35.75"><tspan x="866.5" textLength="61" lengthAdjust="spacingAndGlyphs">100</tspan></text>
<text y="1264.6" font-size="35.75"><tspan x="1032.5" textLength="60" lengthAdjust="spacingAndGlyphs">125</tspan></text>
<text y="1264.6" font-size="35.75"><tspan x="1198.5" textLength="61" lengthAdjust="spacingAndGlyphs">150</tspan></text>
<text y="1264.6" font-size="35.75"><tspan x="1364.5" textLength="60" lengthAdjust="spacingAndGlyphs">175</tspan></text>
<text y="1264.6" font-size="35.75"><tspan x="1528.5" textLength="62" lengthAdjust="spacingAndGlyphs">200</tspan></text>
<text y="1158.6" font-size="35.75"><tspan x="142.5" textLength="71" lengthAdjust="spacingAndGlyphs">14.0</tspan></text>
<text y="1049.2" font-size="35.75"><tspan x="142.5" textLength="71" lengthAdjust="spacingAndGlyphs">14.5</tspan></text>
<text y="1676.3" font-size="35.75"><tspan x="829.5" textLength="92" lengthAdjust="spacingAndGlyphs">Julian</tspan> <tspan x="933.5" textLength="78" lengthAdjust="spacingAndGlyphs">Date</tspan></text>
<text transform="translate(102.1 0) rotate(-90)" font-size="35.75"><tspan x="-1551.5" textLength="157" lengthAdjust="spacingAndGlyphs">Residuals</tspan></text>
<text y="1637.7" font-size="35.75"><tspan x="224.5" textLength="61" lengthAdjust="spacingAndGlyphs">400</tspan></text>
<text y="1637.7" font-size="35.75"><tspan x="465.5" textLength="61" lengthAdjust="spacingAndGlyphs">500</tspan></text>
<text y="1637.7" font-size="35.75"><tspan x="704.5" textLength="62" lengthAdjust="spacingAndGlyphs">600</tspan></text>
<text y="1637.7" font-size="35.75"><tspan x="946.5" textLength="61" lengthAdjust="spacingAndGlyphs">700</tspan></text>
<text y="1637.7" font-size="35.75"><tspan x="1185.5" textLength="61" lengthAdjust="spacingAndGlyphs">800</tspan></text>
<text y="1637.7" font-size="35.75"><tspan x="1426.5" textLength="62" lengthAdjust="spacingAndGlyphs">900</tspan></text>
<text y="1565.8" font-size="35.75"><tspan x="114.5" textLength="99" lengthAdjust="spacingAndGlyphs">−0.25</tspan></text>
<text y="1473.3" font-size="35.75"><tspan x="141.5" textLength="72" lengthAdjust="spacingAndGlyphs">0.00</tspan></text>
<text y="1380.8" font-size="35.75"><tspan x="141.5" textLength="72" lengthAdjust="spacingAndGlyphs">0.25</tspan></text>
<text y="1674.9" font-size="35.75"><tspan x="1307.5" textLength="311" lengthAdjust="spacingAndGlyphs">+2.4580000000e6</tspan></text>
<text y="866.9" font-size="35.75"><tspan x="162.5" textLength="51" lengthAdjust="spacingAndGlyphs">0.0</tspan></text>
</svg></body></html>
